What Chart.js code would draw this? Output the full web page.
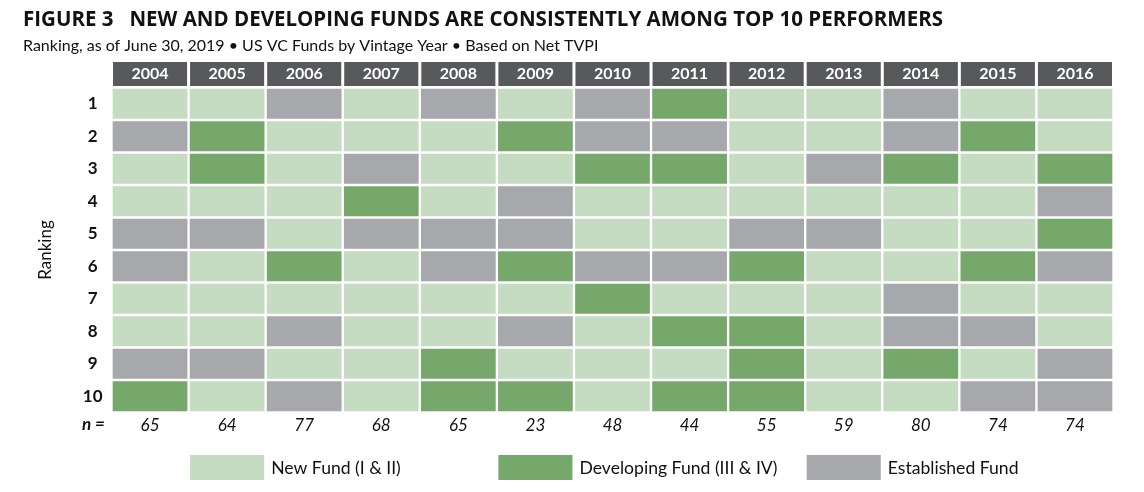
<!DOCTYPE html>
<html>
<head>
<meta charset="utf-8">
<script src="https://cdn.jsdelivr.net/npm/chart.js@4.4.1/dist/chart.umd.min.js"></script>
<style>
  html, body { margin: 0; padding: 0; background: #fff; }
  #wrap { width: 1144px; height: 492px; position: relative; }
</style>
</head>
<body>
<div id="wrap"><canvas id="rankGrid"></canvas></div>
<script>
const years = ['2004', '2005', '2006', '2007', '2008', '2009', '2010', '2011', '2012', '2013', '2014', '2015', '2016'];
const ranks = [1, 2, 3, 4, 5, 6, 7, 8, 9, 10];
const fundCounts = [65, 64, 77, 68, 65, 23, 48, 44, 55, 59, 80, 74, 74];
const fundTypes = ['New Fund (I & II)', 'Developing Fund (III & IV)', 'Established Fund'];
const typeColors = ['#c5dcc2', '#76a86b', '#a7a8ab'];

// one string per rank, one letter per vintage year
// N = new fund, D = developing fund, E = established fund
const rankRows = [
    'NNENENEDNNENN',
    'EDNNNDEENNEDN',
    'NDNENNDDNEDND',
    'NNNDNENNNNNNE',
    'EENEEENNEENND',
    'ENDNEDEEDNNDE',
    'NNNNNNDNNNENN',
    'NNENNENDDNEEN',
    'EENNDNNNDNDNE',
    'DNENDDNDDNNEE'
];
const typeIndex = { N: 0, D: 1, E: 2 };

const FONT = 'Lato, "Noto Sans", sans-serif';

const datasets = ranks.map((rank, r) => ({
    label: 'Rank ' + rank,
    data: years.map(() => 1),
    backgroundColor: rankRows[r].split('').map(t => typeColors[typeIndex[t]]),
    borderColor: '#ffffff',
    borderWidth: 1.5,
    borderSkipped: false,
    barPercentage: 1,
    categoryPercentage: 1
}));

// dark header cells behind the year labels
const headerPlugin = {
    id: 'headerCells',
    beforeDraw(chart) {
        const x = chart.scales.x;
        const ctx = chart.ctx;
        const w = x.width / years.length;
        ctx.save();
        ctx.fillStyle = '#58595b';
        years.forEach((y, i) => {
            const c = x.getPixelForValue(i);
            ctx.fillRect(c - w / 2 + 1.5, x.top + 1.5, w - 3, x.height - 3);
        });
        ctx.restore();
    }
};

// legend swatches sit under the 2005, 2009 and 2013 columns
const legendPlugin = {
    id: 'cellLegend',
    afterDraw(chart) {
        const x = chart.scales.x;
        const nAxis = chart.scales.xN;
        const yAxis = chart.scales.y;
        const ctx = chart.ctx;
        const w = x.width / years.length;
        const anchorCols = [1, 5, 9];
        const top = nAxis.bottom + 12.5;
        const h = 25;
        ctx.save();
        fundTypes.forEach((name, i) => {
            const c = x.getPixelForValue(anchorCols[i]);
            const left = c - w / 2 + 1.5;
            ctx.fillStyle = typeColors[i];
            ctx.fillRect(left, top, w - 3, h);
            ctx.fillStyle = '#111';
            ctx.font = '17.6px ' + FONT;
            ctx.textAlign = 'left';
            ctx.textBaseline = 'middle';
            ctx.fillText(name, left + w - 3 + 7, top + h / 2 + 1);
        });
        ctx.font = 'italic bold 17px ' + FONT;
        ctx.textAlign = 'center';
        ctx.textBaseline = 'middle';
        ctx.fillStyle = '#111';
        ctx.fillText('n =', yAxis.right - 18, nAxis.top + 12.5);
        ctx.restore();
    }
};

new Chart(document.getElementById('rankGrid'), {
    type: 'bar',
    data: { labels: years, datasets: datasets },
    plugins: [headerPlugin, legendPlugin],
    options: {
        responsive: true,
        maintainAspectRatio: false,
        animation: false,
        layout: { padding: { left: 23, right: 30.5, top: 0, bottom: 49.5 } },
        plugins: {
            legend: { display: false },
            tooltip: { enabled: false },
            title: {
                display: true,
                align: 'start',
                text: 'FIGURE 3   NEW AND DEVELOPING FUNDS ARE CONSISTENTLY AMONG TOP 10 PERFORMERS',
                color: '#111',
                font: { family: '"Open Sans", sans-serif', size: 20.5, weight: 'bold', lineHeight: 1.2 },
                padding: { top: 8, bottom: 0 }
            },
            subtitle: {
                display: true,
                align: 'start',
                text: 'Ranking, as of June 30, 2019 \u2022 US VC Funds by Vintage Year \u2022 Based on Net TVPI',
                color: '#111',
                font: { family: FONT, size: 16, lineHeight: 1.2 },
                padding: { top: 4, bottom: 4.7 }
            }
        },
        scales: {
            x: {
                type: 'category',
                position: 'top',
                stacked: true,
                offset: true,
                grid: { display: false, drawTicks: false },
                border: { display: false },
                ticks: {
                    color: '#ffffff',
                    padding: 4,
                    font: { family: FONT, size: 16, weight: 'bold', lineHeight: 1.2 }
                },
                afterFit(s) { s.height = 27; }
            },
            xN: {
                type: 'category',
                position: 'bottom',
                labels: fundCounts.map(String),
                offset: true,
                grid: { display: false, drawTicks: false },
                border: { display: false },
                ticks: {
                    color: '#111',
                    padding: 3,
                    font: { family: FONT, size: 17, style: 'italic', lineHeight: 1.2 }
                },
                afterFit(s) { s.height = 30; }
            },
            y: {
                type: 'linear',
                stacked: true,
                reverse: true,
                min: 0,
                max: ranks.length,
                grid: { display: false, drawTicks: false },
                border: { display: false },
                afterBuildTicks(s) {
                    s.ticks = ranks.map(r => ({ value: r - 0.5 }));
                },
                ticks: {
                    color: '#111',
                    padding: 9,
                    crossAlign: 'center',
                    font: { family: FONT, size: 17, weight: 'bold' },
                    callback: (v) => String(v + 0.5)
                },
                title: {
                    display: true,
                    text: 'Ranking',
                    color: '#111',
                    padding: { top: 12.8, bottom: 0 },
                    font: { family: FONT, size: 17, lineHeight: 1.2 }
                },
                afterFit(s) { s.width = 88.5; }
            }
        }
    }
});
</script>
</body>
</html>
